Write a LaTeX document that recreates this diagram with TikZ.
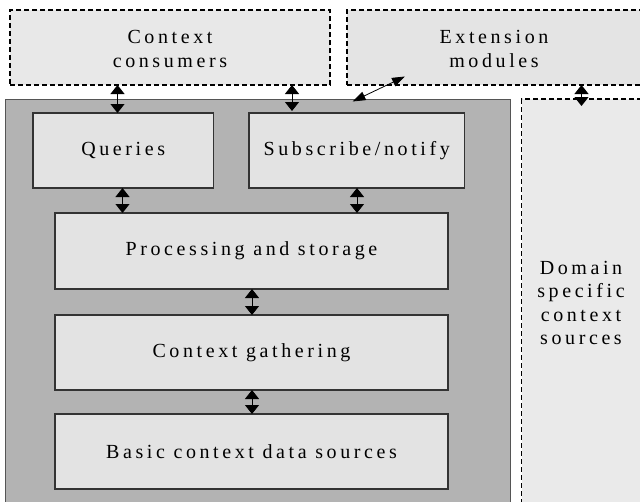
\documentclass[tikz,border=0pt]{standalone}
\usepackage{fontspec}
\setmainfont{Liberation Serif}[LetterSpace=18]
\usetikzlibrary{arrows.meta}

\definecolor{outerfill}{HTML}{E8E8E8}
\definecolor{extfill}{HTML}{E4E4E4}
\definecolor{domfill}{HTML}{EAEAEA}
\definecolor{corefill}{HTML}{B3B3B3}
\definecolor{boxfill}{HTML}{E3E3E3}
\definecolor{coreline}{HTML}{555555}
\definecolor{boxline}{HTML}{333333}

\tikzset{
  txt/.style={font=\fontsize{20}{23.5}\selectfont, text=black, align=center},
  outer/.style={draw=black, line width=1.2pt, dash pattern=on 5pt off 3pt, inner sep=0pt, outer sep=0pt, txt},
  layer/.style={draw=boxline, fill=boxfill, line width=1.2pt, inner sep=0pt, outer sep=0pt, txt},
  dbl/.style={line width=1pt, {Triangle[width=14pt,length=9pt]}-{Triangle[width=14pt,length=9pt]}},
  slim/.style={line width=0.8pt, {Triangle[width=9pt,length=13pt]}-{Triangle[width=9pt,length=13pt]}},
}

\begin{document}
\begin{tikzpicture}[x=1pt,y=-1pt]
  \useasboundingbox (0,0) rectangle (640,501);
  \clip (0,0) rectangle (640,501);
  \fill[white] (0,0) rectangle (640,501);

  % outer (dashed) neighbours
  \node[outer, fill=outerfill, minimum width=320pt, minimum height=75pt] (cons) at (170,47.5) {};
  \node[txt] at (170,49) {Context\\consumers};
  \node[outer, fill=extfill, minimum width=295pt, minimum height=75pt] (ext) at (494.5,47.5) {};
  \node[txt] at (494,49) {Extension\\modules};
  \node[outer, fill=domfill, minimum width=121pt, minimum height=406pt] (dom) at (582,302) {};
  \node[txt] at (581,303) {Domain\\specific\\context\\sources};

  % the middleware core
  \node[draw=coreline, fill=corefill, line width=1pt, minimum width=505pt, minimum height=406pt, inner sep=0pt, outer sep=0pt] (core) at (257.5,302) {};

  % layers inside the core
  \node[layer, minimum width=180.5pt, minimum height=75pt] (query) at (123.25,150.5) {Queries};
  \node[layer, minimum width=215.5pt, minimum height=75pt] (subs) at (356.75,150.5) {Subscribe/notify};
  \node[layer, minimum width=393pt, minimum height=76pt] (proc) at (251.5,251) {Processing and storage};
  \node[layer, minimum width=393pt, minimum height=75pt] (gath) at (251.5,352.5) {Context gathering};
  \node[layer, minimum width=393pt, minimum height=75pt] (basic) at (251.5,451.5) {Basic context data sources};

  % connector positions
  \coordinate (ca) at (117.5,0);
  \coordinate (sa) at (292,0);
  \coordinate (da) at (581.5,0);
  \coordinate (qa) at (122.5,0);
  \coordinate (na) at (357,0);
  \coordinate (pa) at (252,0);
  \coordinate (ea) at (405,76.5);
  \coordinate (eb) at (352.5,101.5);

  \draw[dbl] (cons.south -| ca) -- (query.north -| ca);
  \draw[dbl, shorten >=2pt] (cons.south -| sa) -- (subs.north -| sa);
  \draw[dbl, shorten >=-7pt] (ext.south -| da) -- (dom.north -| da);
  \draw[slim] (ea) -- (eb);
  \draw[dbl] (query.south -| qa) -- (proc.north -| qa);
  \draw[dbl] (subs.south -| na) -- (proc.north -| na);
  \draw[dbl] (proc.south -| pa) -- (gath.north -| pa);
  \draw[dbl] (gath.south -| pa) -- (basic.north -| pa);
\end{tikzpicture}
\end{document}
